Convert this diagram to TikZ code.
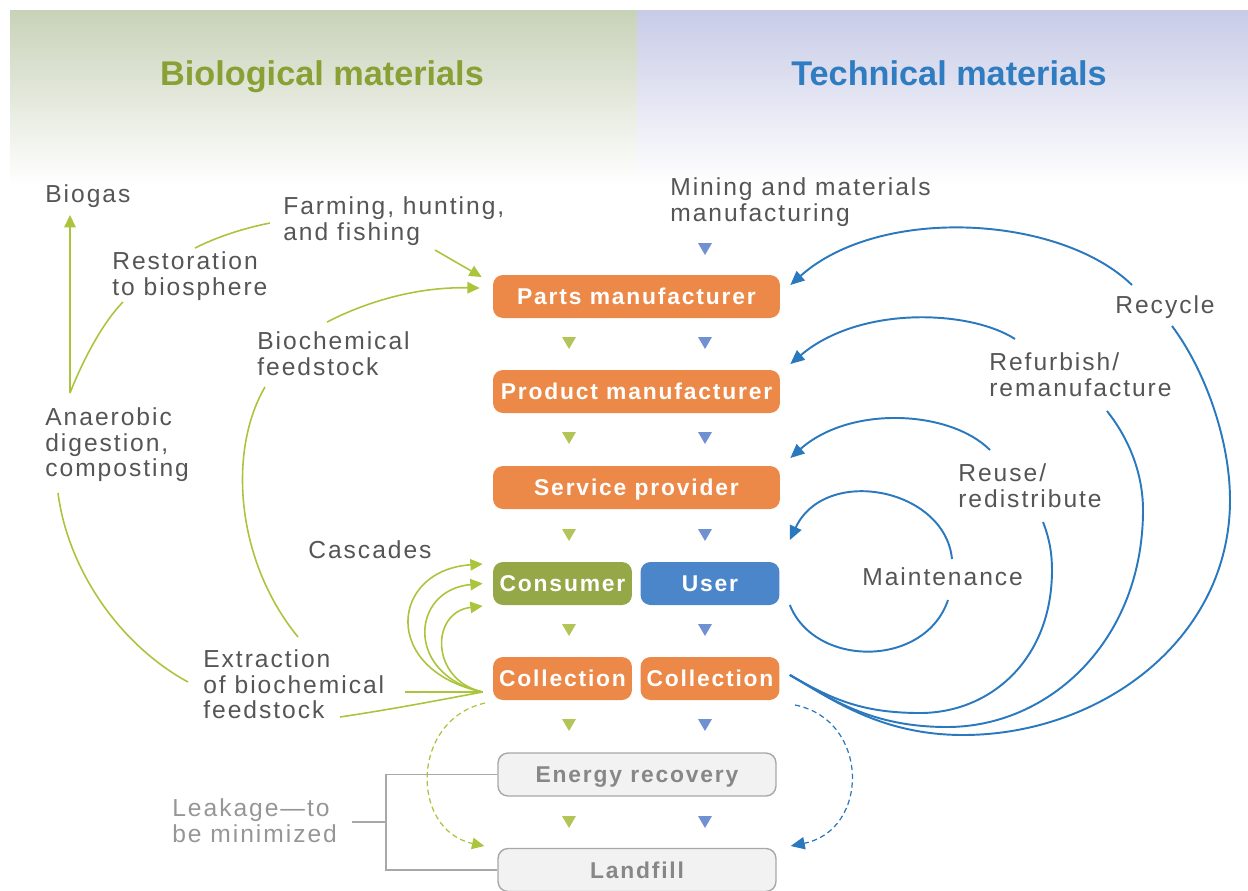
\documentclass[tikz,border=0pt]{standalone}
\usepackage{fontspec}
\setmainfont{Liberation Sans}[LetterSpace=8]
\newfontfamily\headfont{Liberation Sans}
\usetikzlibrary{arrows.meta,positioning}

\definecolor{panelGreen}{RGB}{200,210,184}
\definecolor{panelBlue}{RGB}{200,203,230}
\definecolor{bioHead}{RGB}{137,160,52}
\definecolor{techHead}{RGB}{47,124,193}
\definecolor{boxOrange}{RGB}{236,137,72}
\definecolor{boxGreen}{RGB}{148,168,72}
\definecolor{boxBlue}{RGB}{76,134,202}
\definecolor{leakFill}{RGB}{242,242,242}
\definecolor{leakDraw}{RGB}{168,168,168}
\definecolor{leakText}{RGB}{135,135,135}
\definecolor{leakLabel}{RGB}{150,150,150}
\definecolor{txtGray}{RGB}{85,85,85}
\definecolor{arrGreen}{RGB}{170,196,60}
\definecolor{arrBlue}{RGB}{42,120,190}
\definecolor{triGreen}{RGB}{180,196,88}
\definecolor{triBlue}{RGB}{112,144,210}

% small down-pointing marker: colour, x, y
\newcommand\downtri[3]{\fill[#1] (#2-7,#3-6) -- (#2+7,#3-6) -- (#2,#3+6) -- cycle;}

\begin{document}
\begin{tikzpicture}[
		x=0.02cm, y=-0.02cm,
		font=\fontsize{14}{14.74}\selectfont,
		lbl/.style={anchor=north west, align=left, inner sep=0pt, text=txtGray},
		head/.style={anchor=base, inner sep=0pt, font=\headfont\fontsize{19.5}{22}\selectfont\bfseries},
		stage/.style={rounded corners=0.2cm, fill=boxOrange, text=white, inner sep=0pt,
			text height=9.4pt, text depth=0pt,
			font=\fontsize{13}{14}\selectfont\bfseries, minimum width=5.74cm, minimum height=0.86cm},
		half/.style={stage, minimum width=2.78cm},
		loss/.style={stage, fill=leakFill, draw=leakDraw, line width=0.8pt, text=leakText, minimum width=5.56cm},
		bio/.style={draw=arrGreen, line width=0.9pt},
		bioarrow/.style={bio, -{Triangle[length=7pt,width=6.5pt]}},
		tech/.style={draw=arrBlue, line width=1.1pt},
		techarrow/.style={tech, -{Triangle[length=8pt,width=7pt]}},
		leakage/.style={dashed, dash pattern=on 3pt off 2pt, line width=0.7pt}
		]
		\useasboundingbox (0,0) rectangle (1248,890);
		
		% header panels
		\shade[top color=panelGreen, bottom color=white] (10,10) rectangle (637,185);
		\shade[top color=panelBlue, bottom color=white] (637,10) rectangle (1248,185);
		\node[head, text=bioHead] (biohead) at (322,85) {Biological materials};
		\node[head, text=techHead] (techhead) at (949,85) {Technical materials};
		
		% chain of stages
		\node[stage] (parts) at (636.5,296.5) {Parts manufacturer};
		\node[stage] (product) at (636.5,391.5) {Product manufacturer};
		\node[stage] (service) at (636.5,487.5) {Service provider};
		\node[half, fill=boxGreen] (consumer) at (562.5,583.5) {Consumer};
		\node[half, fill=boxBlue] (user) at (710,583.5) {User};
		\node[half] (collB) at (562.5,678.5) {Collection};
		\node[half] (collT) at (710,678.5) {Collection};
		\node[loss] (energy) at (637,774.5) {Energy recovery};
		\node[loss] (landfill) at (637,870) {Landfill};
		
		\downtri{triBlue}{705}{249}
		\foreach \ty in {343,438,535,630,725,822}{
			\downtri{triGreen}{569}{\ty}
			\downtri{triBlue}{705}{\ty}
		}
		
		% labels
		\node[lbl] (biogas) at (45,184) {Biogas};
		\node[lbl] (farming) at (283,196) {Farming, hunting,\\and fishing};
		\node[lbl] (restore) at (112,251) {Restoration\\to biosphere};
		\node[lbl] (mining) at (670,177) {Mining and materials\\manufacturing};
		\node[lbl] (biochem) at (257,331) {Biochemical\\feedstock};
		\node[lbl] (anaerobic) at (45,407) {Anaerobic\\digestion,\\composting};
		\node[lbl] (cascades) at (308,540) {Cascades};
		\node[lbl] (extraction) at (203,649) {Extraction\\of biochemical\\feedstock};
		\node[lbl, text=leakLabel] (leak) at (172,798) {Leakage—to\\be minimized};
		\node[lbl] (recycle) at (1115,295) {Recycle};
		\node[lbl] (refurbish) at (989,352) {Refurbish/\\remanufacture};
		\node[lbl] (reuse) at (958,463) {Reuse/\\redistribute};
		\node[lbl] (maintenance) at (862,567) {Maintenance};
		
		% biological side
		\coordinate (anaTop) at (70,393);
		\coordinate (gconv) at ([shift={(-10,13.5)}]collB.west);
		\draw[bioarrow] (anaTop) -- (70,215);
		\draw[bio] (anaTop) .. controls (85,355) and (105,320) .. (123,302);
		\draw[bio] (195,248) .. controls (215,238) and (240,229) .. (270,223);
		\draw[bioarrow] (435,250) -- ([shift={(-11,-19.5)}]parts.west);
		\draw[bioarrow] (327,322) .. controls (380,295) and (430,287) .. ([shift={(-13,-8.5)}]parts.west);
		\draw[bio] (265,387) .. controls (228,450) and (235,560) .. (298,637);
		\draw[bio] (58,493) .. controls (68,570) and (120,645) .. (188,682);
		\draw[bioarrow] (gconv) .. controls (380,670) and (390,570) .. ([shift={(-10,-19.5)}]consumer.west);
		\draw[bioarrow] (gconv) .. controls (405,675) and (410,590) .. ([shift={(-10,0)}]consumer.west);
		\draw[bioarrow] (gconv) .. controls (430,680) and (430,612) .. ([shift={(-10,22.5)}]consumer.west);
		\draw[bio] (405,692) -- (gconv);
		\draw[bio] (340,717) .. controls (400,708) and (450,698) .. (gconv);
		\draw[bioarrow, leakage] (485,703) .. controls (410,720) and (410,830) .. ([shift={(-13,-24)}]landfill.west);
		
		% technical side
		\coordinate (tconv) at ([shift={(10,-3.5)}]collT.east);
		\draw[techarrow] (1132,285) .. controls (1060,215) and (880,205) .. ([shift={(10,-11.5)}]parts.east);
		\draw[tech] (tconv) .. controls (830,698) and (880,735) .. (963,735)
			.. controls (1100,735) and (1230,640) .. (1230,500)
			.. controls (1230,440) and (1205,370) .. (1172,326);
		\draw[techarrow] (1015,339) .. controls (970,310) and (860,305) .. ([shift={(10,-27.5)}]product.east);
		\draw[tech] (tconv) .. controls (830,698) and (870,727) .. (947,727)
			.. controls (1050,727) and (1143,640) .. (1143,510)
			.. controls (1143,475) and (1130,440) .. (1107,411);
		\draw[techarrow] (990,450) .. controls (950,410) and (850,405) .. ([shift={(10,-29.5)}]service.east);
		\draw[tech] (tconv) .. controls (830,698) and (860,713) .. (920,713)
			.. controls (990,713) and (1052,660) .. (1052,570)
			.. controls (1052,555) and (1050,540) .. (1043,522);
		\draw[techarrow] (952,559) .. controls (945,488) and (825,465) .. ([shift={(10,-43.5)}]user.east);
		\draw[tech] ([shift={(10,21.5)}]user.east) .. controls (815,668) and (925,668) .. (948,600);
		\draw[techarrow, leakage] (795,705) .. controls (870,720) and (870,830) .. ([shift={(14,-24)}]landfill.east);
		
		% leakage bracket
		\draw[leakDraw, line width=0.6pt] (energy.west) -- (386,774.5) |- (landfill.west);
		\draw[leakDraw, line width=0.6pt] (352,822) -- (386,822);
\end{tikzpicture}
\end{document}
